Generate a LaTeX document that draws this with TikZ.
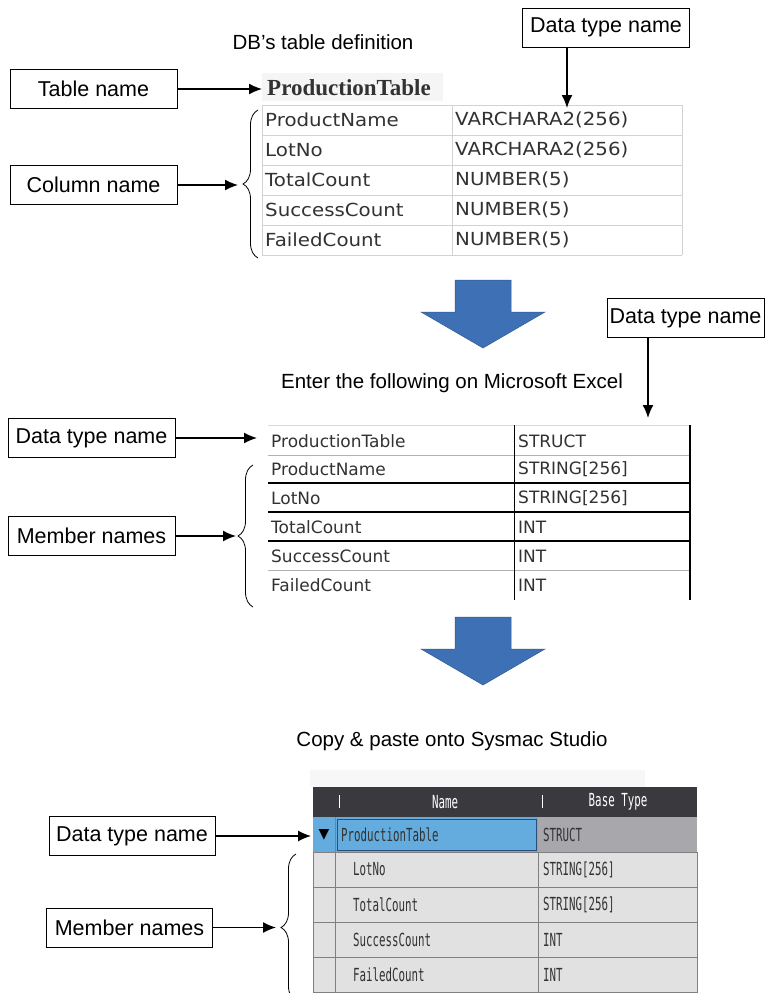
\documentclass[tikz,border=0pt]{standalone}
\usepackage{fontspec}
\setmainfont{Liberation Sans}
\newfontfamily\dbfont[FakeStretch=1.1]{DejaVu Sans}
\newfontfamily\xlfont{DejaVu Sans}
\newfontfamily\sysfont[FakeStretch=0.6]{DejaVu Sans Mono}
\newfontfamily\symfont{DejaVu Sans}
\newfontfamily\titrefont{Liberation Serif}
\usepackage{xcolor}
\usetikzlibrary{arrows.meta}
\usetikzlibrary{decorations.pathreplacing}
\definecolor{bleu}{RGB}{62,112,182}
\definecolor{bleuclair}{RGB}{100,172,222}
\definecolor{entete}{RGB}{58,58,62}
\definecolor{cellgris}{RGB}{225,225,225}
\definecolor{structgris}{RGB}{168,168,172}
\definecolor{encre}{RGB}{50,50,50}

\begin{document}
\begin{tikzpicture}[x=1pt,y=-1pt,
  etiq/.style={draw, line width=0.8pt, minimum width=167pt, minimum height=39pt, inner sep=2pt, font=\fontsize{21.5}{24}\selectfont},
  legende/.style={font=\fontsize{20.5}{24}\selectfont},
  fleche/.style={line width=1.5pt, -{Latex[length=13pt,width=11pt]}},
  accolade/.style={decorate, decoration={brace, amplitude=15pt}, line width=0.8pt},
  cellule/.style={fill=cellgris, draw=gray, line width=0.8pt}]
\useasboundingbox (0,0) rectangle (766,993);

% definition de la table
\node[legende] (titre1) at (323,42) {DB's table definition};
\node[etiq] (tname) at (93.5,89) {Table name};
\node[etiq] (cname) at (93.5,185) {Column name};
\node[etiq] (dtype1) at (606,27.5) {Data type name};
\fill[gray!8] (262,73) rectangle (443,101);
\node[anchor=west, inner sep=0pt, font=\titrefont\bfseries\fontsize{23}{26}\selectfont, text=encre] (ptable) at (267,88) {ProductionTable};
\draw[gray!35] (262,105) -- (682,105);
\foreach \y in {135,165,195,225,255} \draw[gray!35] (262,\y) -- (682,\y);
\draw[gray!35] (262,105) -- (262,255) (452,105) -- (452,255) (682,105) -- (682,255);
\foreach \y/\a/\b [count=\i] in {120/ProductName/VARCHARA2(256), 150/LotNo/VARCHARA2(256), 180/TotalCount/NUMBER(5), 210/SuccessCount/NUMBER(5), 240/FailedCount/NUMBER(5)}{
  \node[anchor=west, inner sep=0pt, font=\dbfont\fontsize{18}{20}\selectfont, text=encre] (da\i) at (265,\y) {\a};
  \node[anchor=west, inner sep=0pt, font=\dbfont\fontsize{18}{20}\selectfont, text=encre] (db\i) at (455,\y) {\b};
}
\coordinate (t1) at (567,108);
\coordinate (b1) at (238,185);
\draw[accolade] (258,258) -- (258,110);
\draw[fleche] (tname.east) -- ([xshift=-5pt]ptable.west |- tname.east);
\draw[fleche] (dtype1.south -| t1) -- (t1);
\draw[fleche] (cname.east) -- (b1);

% grosses fleches
\foreach \dy in {0,337}
  \filldraw[bleu, draw=bleu!80!black, line width=0.5pt, yshift=-\dy pt] (455,280) -- (511,280) -- (511,312) -- (545,312) -- (483,348) -- (421,312) -- (455,312) -- cycle;

% saisie dans Excel
\node[legende] (titre2) at (452,383) {Enter the following on Microsoft Excel};
\node[etiq, minimum width=157pt] (dtype2) at (685.5,318) {Data type name};
\node[etiq] (dtype3) at (91.5,438) {Data type name};
\node[etiq] (mnames2) at (91.5,536) {Member names};
\draw[gray!30] (268,425) -- (690,425);
\draw[gray!60] (268,455) -- (690,455) (268,570) -- (690,570);
\foreach \y in {483,512,541} \draw[line width=1.2pt] (268,\y) -- (690,\y);
\draw[line width=1pt] (514,425) -- (514,600);
\draw[line width=2.5pt] (690,425) -- (690,600);
\foreach \y/\a/\b [count=\i] in {441/ProductionTable/STRUCT, 469/ProductName/STRING[256], 498/LotNo/STRING[256], 527/TotalCount/INT, 556/SuccessCount/INT, 585/FailedCount/INT}{
  \node[anchor=west, inner sep=0pt, font=\xlfont\fontsize{17}{20}\selectfont, text=encre] (xa\i) at (271,\y) {\a};
  \node[anchor=west, inner sep=0pt, font=\xlfont\fontsize{17}{20}\selectfont, text=encre] (xb\i) at (518,\y) {\b};
}
\coordinate (t2) at (648,418);
\coordinate (b2) at (236,536);
\draw[accolade] (253,607) -- (253,465);
\draw[fleche] (dtype2.south -| t2) -- (t2);
\draw[fleche] (dtype3.east) -- ([xshift=-14pt]xa1.west |- dtype3.east);
\draw[fleche] (mnames2.east) -- (b2);

% collage dans Sysmac Studio
\node[legende] (titre3) at (452,741) {Copy \& paste onto Sysmac Studio};
\node[etiq, minimum width=166pt] (dtype4) at (132,836) {Data type name};
\node[etiq, minimum width=166pt] (mnames4) at (129.5,927.5) {Member names};
\fill[gray!6] (310,770) rectangle (645,787);
\fill[entete] (313,787) rectangle (697,817);
\draw[white, line width=0.8pt] (339,795) -- (339,808) (542,795) -- (542,808);
\node[font=\sysfont\fontsize{18}{20}\selectfont, text=white] (hname) at (445,802) {Name};
\node[font=\sysfont\fontsize{18}{20}\selectfont, text=white] (htype) at (618,802) {Base Type};
\fill[bleuclair] (313,817) rectangle (538,852);
\fill[structgris] (538,817) rectangle (697,852);
\draw[bleu!70!black, line width=0.6pt] (337,819) rectangle (536,850);
\draw[gray, line width=0.8pt] (335,817) -- (335,852);
\node[font=\symfont\fontsize{14}{16}\selectfont] (tri) at (324,834.5) {▼};
\node[anchor=west, inner sep=0pt, font=\sysfont\fontsize{18}{20}\selectfont, text=encre] (sa0) at (341,834.5) {ProductionTable};
\node[anchor=west, inner sep=0pt, font=\sysfont\fontsize{18}{20}\selectfont, text=encre] (sb0) at (543,834.5) {STRUCT};
\foreach \y/\a/\b [count=\i] in {852/LotNo/STRING[256], 887/TotalCount/STRING[256], 922/SuccessCount/INT, 957/FailedCount/INT}{
  \draw[cellule] (313,\y) rectangle (335,\y+35) (335,\y) rectangle (538,\y+35) (538,\y) rectangle (697,\y+35);
  \node[anchor=west, inner sep=0pt, font=\sysfont\fontsize{18}{20}\selectfont, text=encre] (sa\i) at (353,\y+17.5) {\a};
  \node[anchor=west, inner sep=0pt, font=\sysfont\fontsize{18}{20}\selectfont, text=encre] (sb\i) at (543,\y+17.5) {\b};
}
\coordinate (b4) at (276,927.5);
\draw[accolade] (296,1001) -- (296,854);
\draw[fleche] (dtype4.east) -- ([xshift=-4pt]tri.west |- dtype4.east);
\draw[fleche] (mnames4.east) -- (b4);
\end{tikzpicture}
\end{document}
